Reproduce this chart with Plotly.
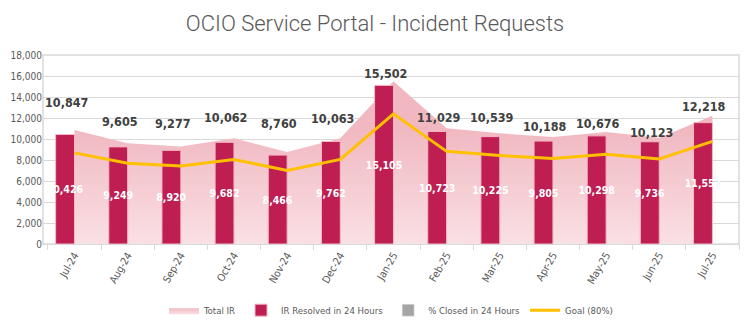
import plotly.graph_objects as go

months = ["Jul-24", "Aug-24", "Sep-24", "Oct-24", "Nov-24", "Dec-24", "Jan-25",
          "Feb-25", "Mar-25", "Apr-25", "May-25", "Jun-25", "Jul-25"]
total_ir = [10847, 9605, 9277, 10062, 8760, 10063, 15502, 11029, 10539, 10188, 10676, 10123, 12218]
resolved_24h = [10426, 9249, 8920, 9682, 8466, 9762, 15105, 10723, 10225, 9805, 10298, 9736, 11557]
pct_closed_24h = [0.961, 0.963, 0.962, 0.962, 0.966, 0.970, 0.974, 0.972, 0.970, 0.962, 0.965, 0.962, 0.946]
goal_80 = [8678, 7684, 7422, 8050, 7008, 8050, 12402, 8823, 8431, 8150, 8541, 8098, 9774]
y_ticks = [0, 2000, 4000, 6000, 8000, 10000, 12000, 14000, 16000, 18000]

# style: per-label vertical offsets (px) of the Total IR labels
label_yshift = [28, 22, 23, 21, 29, 20, 8, 11, 16, 11, 8, 5, 9]

FONT = "DejaVu Sans Condensed, Roboto, sans-serif"
GRAY = "#595959"

fig = go.Figure()

fig.add_trace(go.Scatter(
    x=months, y=total_ir, name="Total IR", mode="lines",
    line=dict(width=0, color="#f2bcc5"), fill="tozeroy",
    fillgradient=dict(type="vertical", start=0, stop=11000,
                      colorscale=[[0, "#f9e0e4"], [1, "#f1b8c1"]]),
    hoverinfo="skip", xaxis="x", yaxis="y",
))

fig.add_trace(go.Bar(
    x=months, y=resolved_24h, name="IR Resolved in 24 Hours",
    marker=dict(color="#be1e52", line=dict(color="#f4b8c4", width=1)),
    text=[f"{v:,}" for v in resolved_24h], textposition="inside",
    insidetextanchor="middle", textangle=0, constraintext="none",
    textfont=dict(family=FONT, size=10.5, color="white", weight="bold"),
    xaxis="x", yaxis="y2",
))

fig.add_trace(go.Bar(
    x=months, y=pct_closed_24h, name="% Closed in 24 Hours",
    marker=dict(color="#a5a5a5"), xaxis="x", yaxis="y2",
))

fig.add_trace(go.Scatter(
    x=months, y=goal_80, name="Goal (80%)", mode="lines",
    line=dict(color="#ffc000", width=3), xaxis="x", yaxis="y2",
))

for m, v, s in zip(months, total_ir, label_yshift):
    fig.add_annotation(x=m, y=v, text=f"{v:,}", showarrow=False,
                       yanchor="middle", yshift=s, xshift=-8,
                       font=dict(family=FONT, size=12.5, color="#404040", weight="bold"))

fig.add_shape(type="rect", xref="paper", yref="paper", x0=0, x1=1, y0=0, y1=1,
              line=dict(color="#d9d9d9", width=1.5), layer="below")

fig.update_layout(
    width=750, height=329,
    margin=dict(l=43, r=11, t=55, b=85, autoexpand=False),
    paper_bgcolor="white", plot_bgcolor="white",
    barmode="group", bargap=0.29, bargroupgap=0,
    title=dict(text="OCIO Service Portal - Incident Requests", x=0.5, xanchor="center",
               y=0.93, yanchor="middle",
               font=dict(family="Roboto, sans-serif", size=22, color=GRAY, weight=300)),
    xaxis=dict(type="category", tickangle=-60, tickson="boundaries",
               ticks="outside", ticklen=5, tickcolor="#d9d9d9",
               showline=True, linecolor="#d9d9d9", linewidth=1,
               showgrid=False, automargin=False,
               tickfont=dict(family=FONT, size=10.5, color=GRAY)),
    yaxis=dict(range=[0, 18000], tickvals=y_ticks, tickformat=",",
               showgrid=True, gridcolor="#d9d9d9", gridwidth=1, zeroline=False,
               automargin=False,
               tickfont=dict(family=FONT, size=10, color=GRAY), ticks=""),
    yaxis2=dict(range=[0, 18000], overlaying="y", visible=False),
    legend=dict(orientation="h", x=0.5, xanchor="center", y=-0.35, yanchor="middle",
                font=dict(family=FONT, size=9.5, color=GRAY), traceorder="normal",
                itemwidth=30, tracegroupgap=0),
    showlegend=True,
)

fig.write_html("out.html")
